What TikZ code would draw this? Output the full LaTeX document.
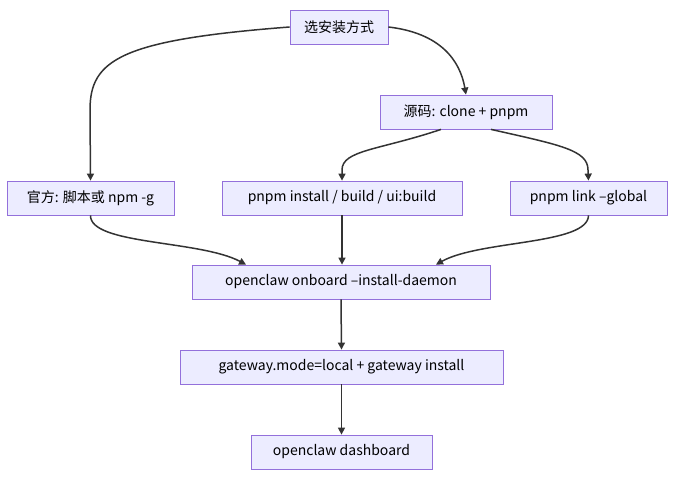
\documentclass[tikz,border=0pt]{standalone}
\usepackage{fontspec}
\setmainfont{Noto Sans CJK SC}
\usetikzlibrary{arrows.meta}
\definecolor{nfill}{HTML}{ECECFF}
\definecolor{nline}{HTML}{9370DB}
\definecolor{eline}{HTML}{333333}
\begin{document}
\begin{tikzpicture}[x=1pt,y=-1pt,
  box/.style={draw=nline,fill=nfill,line width=0.8pt,minimum height=34pt,inner xsep=14pt,font=\fontsize{14}{16}\selectfont},
  e/.style={draw=eline,line width=1.5pt,-{Triangle[length=7pt,width=7pt]}}]
\useasboundingbox (0,0) rectangle (691,494);
\node[box,minimum width=94pt] (top) at (339,27) {选安装方式};
\node[box,minimum width=172pt] (src) at (466,112) {源码: clone + pnpm};
\node[box,minimum width=167pt] (off) at (90.5,198) {官方: 脚本或 npm -g};
\node[box,minimum width=240pt] (inst) at (342,198) {pnpm install / build / ui:build};
\node[box,minimum width=157pt] (link) at (588.5,198) {pnpm link --global};
\node[box,minimum width=298pt] (onb) at (341,282) {openclaw onboard --install-daemon};
\node[box,minimum width=323pt] (gw) at (341.5,367) {gateway.mode=local + gateway install};
\node[box,minimum width=181pt] (dash) at (341.5,452) {openclaw dashboard};
\draw[e] (top.west) .. controls (120,40) and (90,60) .. (90,110) -- (off.north);
\draw[e] (top.east) .. controls (440,33) and (460,60) .. (src.north);
\draw[e] ([xshift=-25pt]src.south) .. controls (380,150) and (342,150) .. (342,170) -- (inst.north);
\draw[e] ([xshift=25pt]src.south) .. controls (560,145) and (588,150) .. (588,170) -- (link.north);
\draw[e] (off.south) .. controls (90,245) and (200,240) .. ([xshift=-95pt]onb.north);
\draw[e] (link.south) .. controls (588,245) and (480,240) .. ([xshift=95pt]onb.north);
\draw[e] (inst.south) -- (inst.south |- onb.north);
\draw[e] (onb.south) -- (gw.north);
\draw[e] (gw.south) -- (dash.north);
\end{tikzpicture}
\end{document}
